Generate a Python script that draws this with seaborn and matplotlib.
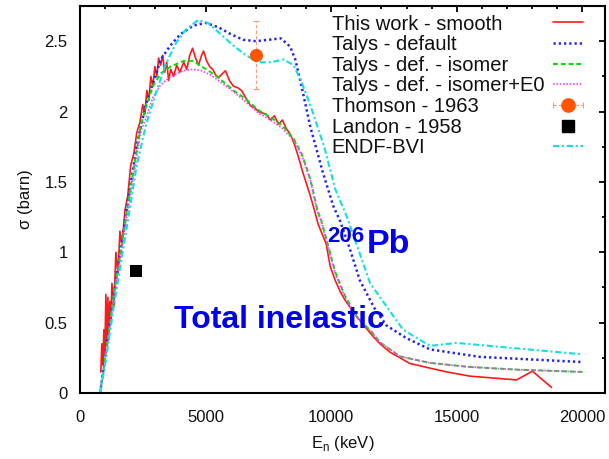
import matplotlib
matplotlib.use("Agg")
import matplotlib.pyplot as plt
from matplotlib.lines import Line2D
from matplotlib.legend_handler import HandlerLine2D, HandlerTuple
from matplotlib.ticker import MultipleLocator
import seaborn as sns
import numpy as np

# ---------------- data ----------------
work_e = [830, 870, 910, 950, 990, 1030, 1070, 1110, 1150, 1190, 1230, 1270, 1350, 1430,
          1510, 1590, 1670, 1790, 1900, 2020, 2140, 2260, 2380, 2500, 2580, 2660, 2740,
          2820, 2900, 2980, 3060, 3130, 3210, 3290, 3370, 3450, 3530, 3610, 3730, 3850,
          3970, 4130, 4250, 4370, 4480, 4600, 4720, 4840, 4920, 5040, 5160, 5280, 5400,
          5520, 5670, 5790, 5950, 6110, 6270, 6430, 6590, 6790, 6940, 7100, 7260, 7420,
          7580, 7740, 7900, 8060, 8210, 8370, 8530, 8690, 8850, 9010, 9170, 9330, 9480,
          9640, 9800, 9960, 10160, 10360, 10550, 10750, 11030, 11350, 11630, 11940, 12340,
          12740, 13130, 13850, 14600, 15510, 17380, 18010, 18770]
work_s = [0.15, 0.35, 0.20, 0.45, 0.28, 0.70, 0.35, 0.68, 0.38, 0.65, 0.50, 0.78, 0.62, 1.00,
          0.85, 1.15, 1.05, 1.30, 1.40, 1.62, 1.70, 1.85, 1.92, 2.05, 1.98, 2.15, 2.08,
          2.25, 2.18, 2.32, 2.25, 2.38, 2.33, 2.40, 2.28, 2.35, 2.22, 2.30, 2.25, 2.33,
          2.28, 2.35, 2.30, 2.40, 2.45, 2.38, 2.33, 2.40, 2.43, 2.36, 2.32, 2.30, 2.26,
          2.24, 2.27, 2.29, 2.22, 2.18, 2.17, 2.15, 2.10, 2.04, 2.03, 2.00, 1.99, 1.98,
          1.94, 1.97, 1.91, 1.94, 1.88, 1.84, 1.77, 1.68, 1.58, 1.49, 1.40, 1.30, 1.20,
          1.13, 1.06, 0.90, 0.80, 0.72, 0.66, 0.61, 0.54, 0.47, 0.41, 0.35, 0.29,
          0.25, 0.21, 0.18, 0.15, 0.12, 0.093, 0.155, 0.04]

talys_e = [800, 1000, 1350, 1590, 1870, 2260, 2420, 2620, 2900, 3210, 3610, 4130, 4500, 4840,
           5200, 5520, 6110, 6590, 7100, 7580, 8060, 8530, 8850, 9170, 9450, 9600, 9800,
           10160, 10550, 11030, 11630, 11940, 12740, 13930, 15500, 17500, 20000]
iso_s = [0.0, 0.25, 0.71, 0.97, 1.30, 1.73, 1.90, 2.03, 2.18, 2.27, 2.32, 2.36, 2.36, 2.32,
         2.28, 2.24, 2.15, 2.09, 2.01, 1.96, 1.90, 1.80, 1.69, 1.52, 1.30, 1.23, 1.10,
         0.86, 0.69, 0.54, 0.43, 0.36, 0.26, 0.214, 0.185, 0.165, 0.15]
isoe0_s = [0.0, 0.22, 0.68, 0.94, 1.26, 1.68, 1.86, 1.95, 2.10, 2.19, 2.25, 2.29, 2.30, 2.29,
           2.26, 2.22, 2.14, 2.07, 1.99, 1.94, 1.88, 1.79, 1.68, 1.51, 1.29, 1.22, 1.09,
           0.85, 0.68, 0.535, 0.43, 0.36, 0.26, 0.214, 0.185, 0.165, 0.15]

default_e = [800, 1000, 1350, 1590, 1870, 2260, 2620, 3000, 3210, 3600, 4000, 4500, 5000, 5500,
             6000, 6500, 7000, 7500, 8000, 8370, 8570, 8770, 9170, 9680, 10080, 10360, 10750,
             11140, 11730, 12200, 12990, 13930, 15900, 20000]
default_s = [0.0, 0.25, 0.71, 0.98, 1.32, 1.76, 2.05, 2.25, 2.37, 2.47, 2.55, 2.61, 2.63, 2.60,
             2.55, 2.51, 2.50, 2.51, 2.52, 2.46, 2.37, 2.22, 1.89, 1.56, 1.33, 1.22, 1.02,
             0.80, 0.60, 0.48, 0.39, 0.31, 0.257, 0.22]

endf_e = [800, 1000, 1350, 1590, 1900, 2260, 2620, 3000, 3400, 3800, 4200, 4700, 5100, 5600,
          6100, 6600, 7100, 7600, 8100, 8500, 8800, 9200, 9720, 10160, 10630, 11550, 12860,
          13930, 15000, 17200, 20000]
endf_s = [0.0, 0.20, 0.62, 0.88, 1.22, 1.62, 1.90, 2.12, 2.33, 2.48, 2.58, 2.65, 2.63, 2.55,
          2.47, 2.40, 2.35, 2.35, 2.37, 2.33, 2.22, 2.03, 1.75, 1.45, 1.25, 0.78, 0.45,
          0.335, 0.356, 0.32, 0.275]

thomson_e = [7000]
thomson_s = [2.40]
thomson_err = [0.24]

landon_e = [2220]
landon_s = [0.87]

labels = ["This work - smooth", "Talys - default", "Talys - def. - isomer",
          "Talys - def. - isomer+E0", "Thomson - 1963", "Landon - 1958", "ENDF-BVI"]
xticks = [0, 5000, 10000, 15000, 20000]
yticks = [0, 0.5, 1, 1.5, 2, 2.5]
ytick_labels = ["0", "0.5", "1", "1.5", "2", "2.5"]

# ---------------- style ----------------
sns.set_style("white")
plt.rcParams["font.family"] = ["Liberation Sans", "DejaVu Sans"]
plt.rcParams["mathtext.fontset"] = "custom"
plt.rcParams["mathtext.rm"] = "Liberation Sans"

fig = plt.figure(figsize=(6.09, 4.59), dpi=100)
ax = fig.add_axes([80 / 609, 66 / 459, 525 / 609, 387 / 459])

c_red = "#ff1a1a"
c_blue = "#2020ff"
c_green = "#00dd00"
c_mag = "#ff40ff"
c_cyan = "#10e0e0"
c_orange = "#ff5500"

l_work = sns.lineplot(x=work_e, y=work_s, sort=False, estimator=None, color=c_red,
                      lw=1.2, ax=ax).lines[-1]
l_def = sns.lineplot(x=default_e, y=default_s, sort=False, estimator=None, color=c_blue,
                     lw=1.8, ax=ax).lines[-1]
l_def.set_linestyle((0, (0.9, 1.2)))
l_iso = sns.lineplot(x=talys_e, y=iso_s, sort=False, estimator=None, color=c_green,
                     lw=1.4, ax=ax).lines[-1]
l_iso.set_linestyle((0, (2.5, 1.5)))
l_isoe0 = sns.lineplot(x=talys_e, y=isoe0_s, sort=False, estimator=None, color=c_mag,
                       lw=1.2, ax=ax).lines[-1]
l_isoe0.set_linestyle((0, (1, 1)))
l_endf = sns.lineplot(x=endf_e, y=endf_s, sort=False, estimator=None, color=c_cyan,
                      lw=1.5, ax=ax).lines[-1]
l_endf.set_linestyle((0, (3, 1.3, 1, 1.3)))

eb = ax.errorbar(thomson_e, thomson_s, yerr=thomson_err, fmt="none", ecolor="#ff9a70",
                 elinewidth=0.8, capsize=2.5, capthick=0.8, ls="none")
eb[2][0].set_linestyle((0, (3, 2)))
sns.scatterplot(x=thomson_e, y=thomson_s, color=c_orange, s=90, edgecolor=c_orange,
                linewidth=0, ax=ax, zorder=5)
sns.scatterplot(x=landon_e, y=landon_s, color="black", marker="s", s=70, edgecolor="black",
                linewidth=0, ax=ax, zorder=5)

ax.set_xlim(0, 20900)
ax.set_ylim(0, 2.75)
ax.set_xticks(xticks)
ax.set_xticklabels([str(t) for t in xticks])
ax.set_yticks(yticks)
ax.set_yticklabels(ytick_labels)
ax.xaxis.set_minor_locator(MultipleLocator(1000))
ax.yaxis.set_minor_locator(MultipleLocator(0.25))
ax.tick_params(which="both", direction="in", top=True, right=True, color="black",
               width=1.3, labelsize=12, labelcolor="#111111")
ax.tick_params(which="major", length=4.5)
ax.tick_params(which="minor", length=2.5)
ax.tick_params(axis="x", which="major", pad=12)
ax.tick_params(axis="y", which="major", pad=9)
for sp in ax.spines.values():
    sp.set_visible(True)
    sp.set_color("black")
    sp.set_linewidth(1.5)

ax.set_xlabel(r"E$_\mathregular{n}$ (keV)", fontsize=12, labelpad=7, color="#111111")
ax.set_ylabel("σ (barn)", fontsize=12, labelpad=8, color="#111111")

# annotations
ax.text(3760, 0.463, "Total inelastic", color="#0000ee", fontsize=23, fontweight="bold",
        ha="left", va="baseline")
ax.text(9840, 1.075, "206", color="#0000ee", fontsize=16, fontweight="bold",
        ha="left", va="baseline")
ax.text(11430, 0.997, "Pb", color="#0000ee", fontsize=24.5, fontweight="bold",
        ha="left", va="baseline")

# legend: text column (left aligned) + sample column (right)
fs = 14.5
top = 1 - 14.5 / 459
lsp = 0.08
blank = [Line2D([], [], lw=0, marker=None) for _ in labels]
legA = fig.legend(blank, labels, loc="upper left", bbox_to_anchor=(331.7 / 609, top),
                  frameon=False, fontsize=fs, handlelength=0, handletextpad=0,
                  borderpad=0, borderaxespad=0, labelspacing=lsp, labelcolor="#111111")

caps = Line2D([], [], color="#ff9a70", lw=0.8, ls=(0, (3, 2)), marker="|",
              markersize=5, markeredgewidth=0.8)
dot = Line2D([], [], color=c_orange, lw=0, marker="o", markersize=9.5)
sq = Line2D([], [], color="black", lw=0, marker="s", markersize=8)
handles = [l_work, l_def, l_iso, l_isoe0, (caps, dot), sq, l_endf]
legB = fig.legend(handles, [" "] * len(labels), loc="upper right",
                  bbox_to_anchor=(583 / 609, top), frameon=False, fontsize=fs,
                  handlelength=1.5, handletextpad=0, borderpad=0, borderaxespad=0,
                  labelspacing=lsp, markerfirst=False,
                  handler_map={caps: HandlerLine2D(numpoints=2, marker_pad=0),
                               tuple: HandlerTuple(ndivide=1, pad=0)})

fig.savefig("out.png", dpi=100)
